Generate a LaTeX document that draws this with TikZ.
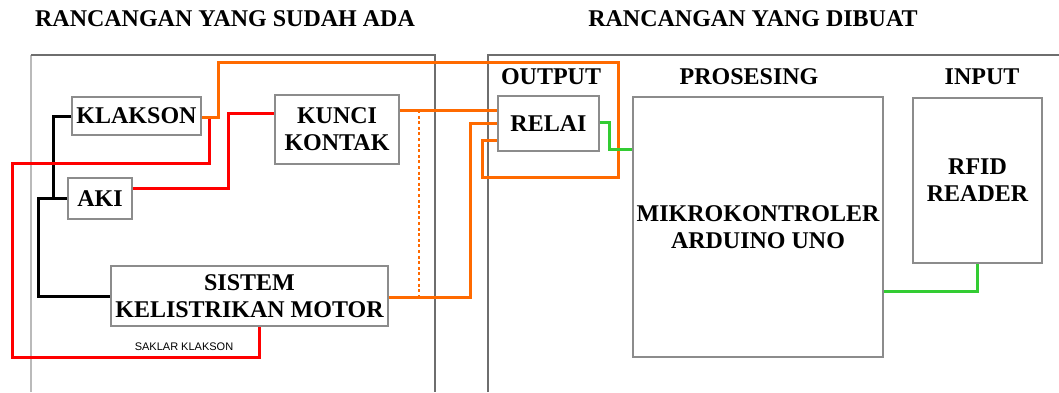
\documentclass[tikz,border=0pt]{standalone}
\usepackage{fontspec}
\setmainfont{Liberation Serif}
\setsansfont{Liberation Sans}
\usetikzlibrary{positioning}
\definecolor{WireOrange}{HTML}{FF6A00}
\definecolor{WireRed}{HTML}{FF0000}
\definecolor{WireGreen}{HTML}{33CC33}
\definecolor{FrameGray}{HTML}{6E6E6E}
\definecolor{BoxGray}{HTML}{8C8C8C}

\begin{document}
\begin{tikzpicture}[
    x=0.5pt, y=-0.5pt,
    box/.style={draw=BoxGray, fill=white, line width=0.7pt, inner sep=0pt,
      align=center, font=\fontsize{12}{13.5}\selectfont\bfseries},
    head/.style={inner sep=0pt, font=\fontsize{12}{13.5}\selectfont\bfseries},
    frame/.style={draw=FrameGray, line width=0.6pt},
    blk/.style={black, line width=1.5pt},
    red/.style={WireRed, line width=1.5pt},
    org/.style={WireOrange, line width=1.5pt},
    grn/.style={WireGreen, line width=1.5pt}
  ]
    \useasboundingbox (0,0) rectangle (1059,392);

    \draw[frame, draw=BoxGray!60] (31,392) -- (31,55);
    \draw[frame] (31,55) -- (435,55) -- (435,392);
    \draw[frame] (488,392) |- (1059,55);

    \node[head] (title1) at (225,19) {RANCANGAN YANG SUDAH ADA};
    \node[head] (title2) at (753,19) {RANCANGAN YANG DIBUAT};
    \node[head] (outlbl) at (551,77) {OUTPUT};
    \node[head] (proclbl) at (749,77) {PROSESING};
    \node[head] (inlbl) at (982,77) {INPUT};

    \node[box, minimum width=64.5pt, minimum height=19pt] (klakson) at (136.5,116) {KLAKSON};
    \node[box, minimum width=62pt, minimum height=34.5pt] (kunci) at (337,129.5) {KUNCI\\KONTAK};
    \node[box, minimum width=32pt, minimum height=20.5pt] (aki) at (100,198.5) {AKI};
    \node[box, minimum width=138.5pt, minimum height=30pt] (sistem) at (249.5,296) {SISTEM\\KELISTRIKAN MOTOR};
    \node[box, minimum width=50.5pt, minimum height=27.5pt] (relai) at (548.5,123.5) {RELAI};
    \node[box, minimum width=125pt, minimum height=130pt] (mikro) at (758,227) {MIKROKONTROLER\\ARDUINO UNO};
    \node[box, minimum width=64.5pt, minimum height=82.5pt] (rfid) at (977.5,180.5) {RFID\\READER};
    \node[font=\sffamily\fontsize{5.5}{6}\selectfont, inner sep=0pt] (saklar) at (184,347) {SAKLAR KLAKSON};

    \coordinate (bj) at (53,198.5);
    \coordinate (kj) at (209,117);
    \coordinate (dtop) at (419,110);
    \coordinate (dbot) at (419,297);

    \draw[blk] (klakson.west) -- (53,116) -- (bj) -- (aki.west);
    \draw[blk] (bj) -- (38,198.5) |- (sistem.west);

    \draw[red] (kj) -- (209,163) -- (12,163) -- (12,357) -| ([xshift=4.75pt]sistem.south);
    \draw[red] (aki.east |- 0,188.5) -- (228,188.5) |- (kunci.west |- 0,113);

    \draw[org] (klakson.east |- 0,117) -- (218,117) -- (218,62) -- (618,62) -- (618,177)
      -- (482,177) -- (482,140) -- (relai.west |- 0,140);
    \draw[org] (kunci.east |- 0,110) -- (relai.west |- 0,110);
    \draw[org] (sistem.east |- 0,297) -- (470,297) -- (470,123) -- (relai.west |- 0,123);
    \draw[org, line width=1.4pt, dash pattern=on 1.5pt off 1.3pt] (dtop) -- (dbot);

    \draw[grn] (relai.east |- 0,122) -- (609,122) -- (609,149) -- (mikro.west |- 0,149);
    \draw[grn] (mikro.east |- 0,291) -| (rfid.south);
  \end{tikzpicture}
\end{document}
